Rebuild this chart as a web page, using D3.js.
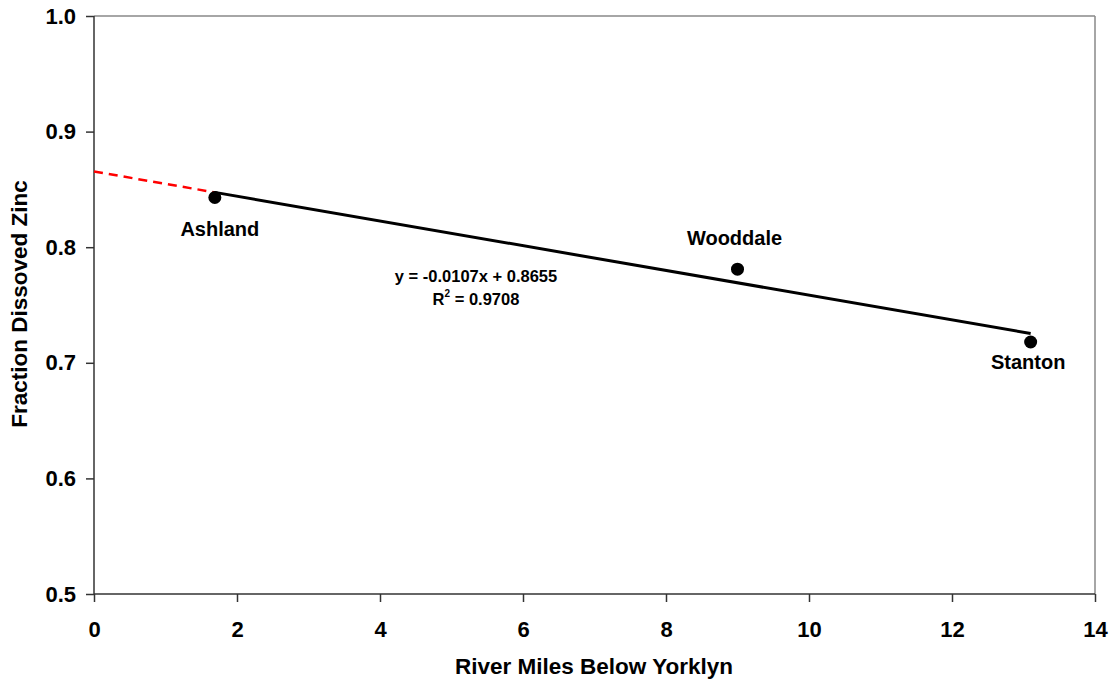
<!DOCTYPE html>
<html><head><meta charset="utf-8">
<script src="https://cdn.jsdelivr.net/npm/d3@7"></script>
<style>body{margin:0;background:#fff}text{font-family:Arial,"Liberation Sans",sans-serif;font-weight:bold}</style>
</head><body><svg id="c" width="1112" height="684"></svg>
<script>
const sites = ["Ashland","Wooddale","Stanton"];
const miles = [1.69, 9.0, 13.1];
const fraction = [0.843, 0.781, 0.718];
const xTicks = [0,2,4,6,8,10,12,14];
const yTicks = [0.5,0.6,0.7,0.8,0.9,1.0];
const slope = -0.0107, intercept = 0.8655, r2 = "0.9708";

const svg = d3.select("#c");
const L=94,R=1095,T=16,B=594;
const x = d3.scaleLinear().domain([0,14]).range([L,R]);
const y = d3.scaleLinear().domain([0.5,1.0]).range([B,T]);

// frame top/right
svg.append("line").attr("x1",L).attr("x2",R).attr("y1",T).attr("y2",T).attr("stroke","#888").attr("stroke-width",1.5);
svg.append("line").attr("x1",R).attr("x2",R).attr("y1",T).attr("y2",B).attr("stroke","#888").attr("stroke-width",1.5);

const xa = svg.append("g").attr("transform",`translate(0,${B})`).call(d3.axisBottom(x).tickValues(xTicks).tickSize(8).tickPadding(19).tickFormat(d3.format("d")));
const ya = svg.append("g").attr("transform",`translate(${L},0)`).call(d3.axisLeft(y).tickValues(yTicks).tickSize(8).tickPadding(10).tickFormat(d3.format(".1f")));
[xa,ya].forEach(a=>{a.selectAll("path,line").attr("stroke","#333").attr("stroke-width",1.5);a.select(".domain").attr("d",null);a.selectAll("text").attr("font-size",22).attr("fill","#000").style("font-family","Arial, 'Liberation Sans', sans-serif");});
svg.append("line").attr("x1",L).attr("x2",L).attr("y1",T).attr("y2",B).attr("stroke","#333").attr("stroke-width",1.5);
svg.append("line").attr("x1",L).attr("x2",R).attr("y1",B).attr("y2",B).attr("stroke","#333").attr("stroke-width",1.5);

const f = v => slope*v + intercept;
const x0 = d3.min(miles), x1 = d3.max(miles);
svg.append("line").attr("x1",x(0)).attr("y1",y(f(0))).attr("x2",x(x0)).attr("y2",y(f(x0)))
  .attr("stroke","#ff0000").attr("stroke-width",2.5).attr("stroke-dasharray","9,6");
svg.append("line").attr("x1",x(x0)).attr("y1",y(f(x0))).attr("x2",x(x1)).attr("y2",y(f(x1)))
  .attr("stroke","#000").attr("stroke-width",3);

svg.selectAll("circle.p").data(miles).join("circle").attr("class","p")
  .attr("cx",d=>x(d)).attr("cy",(d,i)=>y(fraction[i])).attr("r",6.5).attr("fill","#000");

const lblOff = [[5,39],[-3,-24],[-2.5,27]];
svg.selectAll("text.lbl").data(sites).join("text").attr("class","lbl")
  .attr("x",(d,i)=>x(miles[i])+lblOff[i][0]).attr("y",(d,i)=>y(fraction[i])+lblOff[i][1])
  .attr("text-anchor","middle").attr("font-size",20).text(d=>d);

svg.append("text").attr("x",476).attr("y",282).attr("text-anchor","middle").attr("font-size",16.5)
  .text(`y = ${slope}x + ${intercept}`);
const rt = svg.append("text").attr("x",476).attr("y",305).attr("text-anchor","middle").attr("font-size",16.5);
rt.append("tspan").text("R");
rt.append("tspan").attr("font-size",10).attr("dy",-8).text("2");
rt.append("tspan").attr("dy",8).text(` = ${r2}`);

svg.append("text").attr("x",594).attr("y",674).attr("text-anchor","middle").attr("font-size",22.5).text("River Miles Below Yorklyn");
svg.append("text").attr("transform","translate(27,304) rotate(-90)").attr("text-anchor","middle").attr("font-size",22.5).text("Fraction Dissoved Zinc");
</script></body></html>
